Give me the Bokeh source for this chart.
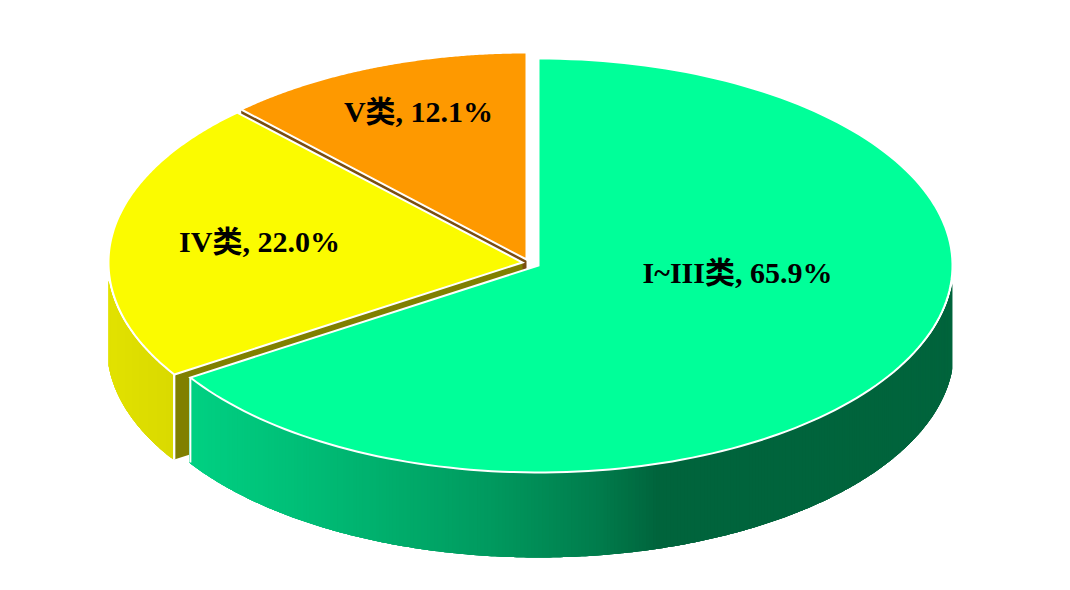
import numpy as np
from bokeh.plotting import figure
from bokeh.models import Range1d, ColumnDataSource
from bokeh.core.properties import value
from bokeh.embed import file_html
from bokeh.resources import INLINE

# ---- data
categories = ["I~III类", "IV类", "V类"]
shares = [65.9, 22.0, 12.1]

# ---- style / layout (window pixels)
apex_x = [538, 522, 526]
apex_y = [265, 262, 259]
RX, RY, DEPTH = 414, 207, 85
top_colors = ["#00ff99", "#fbfb00", "#fe9900"]
cut_colors = ["#006038", "#808000", "#7a4e10"]
label_dx = [199, -263, -108]
label_dy = [7, -21, -148]
green_stops = [(189, (0, 210, 131)), (300, (0, 192, 120)), (400, (0, 174, 108)),
               (500, (0, 154, 95)), (610, (0, 124, 76)), (670, (0, 100, 60)), (955, (0, 100, 60))]
yellow_stops = [(107, (226, 226, 0)), (175, (218, 218, 0))]

p = figure(width=1054, height=574, output_backend="svg", toolbar_location=None,
           x_range=Range1d(0, 1054), y_range=Range1d(574, 0), min_border=0)
p.axis.visible = False
p.grid.visible = False
p.outline_line_color = None


def ramp(stops, x):
    xs = [s[0] for s in stops]
    rgb = [np.interp(x, xs, [s[1][i] for s in stops]) for i in range(3)]
    return "#%02x%02x%02x" % tuple(int(round(c)) for c in rgb)


def rim(cx, cy, a, rx=RX, ry=RY):
    t = np.radians(a)
    return cx + rx * np.sin(t), cy - ry * np.cos(t)


def wall(cx, cy, a0, a1, stops, step=0.5):
    """Outer wall of a slice drawn as thin overlapping strips carrying a gradient."""
    edges = np.arange(a0, a1, step).tolist() + [a1]
    pairs = list(zip(edges[:-1], edges[1:]))
    xs, ys, cols = [], [], []
    for u, v in pairs:
        end = min(v + 3 * step, a1)
        a = np.linspace(u, end, 5)
        x, y = rim(cx, cy, a, RX + 1.5)
        xs.append(np.r_[x, x[::-1]].tolist())
        ys.append(np.r_[y, y[::-1] + DEPTH].tolist())
        cols.append(ramp(stops, float(x[0])))
    # last strips paint first so that each strip's start edge stays crisp
    p.patches(xs[::-1], ys[::-1], fill_color=cols[::-1], line_color=None)


def top(i, a0, a1):
    a = np.linspace(a0, a1, 160)
    x, y = rim(apex_x[i], apex_y[i], a)
    p.patch(np.r_[apex_x[i], x], np.r_[apex_y[i], y], fill_color=top_colors[i],
            line_color="#ffffff", line_width=2, line_join="miter")


def cut(i, a):
    tx, ty = rim(apex_x[i], apex_y[i], a)
    p.patch([apex_x[i], tx, tx, apex_x[i]],
            [apex_y[i], ty, ty + DEPTH, apex_y[i] + DEPTH],
            fill_color=cut_colors[i], line_color=None)


bounds = np.r_[0, np.cumsum(shares)] * 3.6
green_a0, green_a1 = bounds[0], bounds[1]
yellow_a0, yellow_a1 = bounds[1], bounds[2]
orange_a0, orange_a1 = bounds[2], bounds[3]

# back to front
cut(2, orange_a0)
top(2, orange_a0, orange_a1)

cut(1, yellow_a0)
wall(apex_x[1], apex_y[1], yellow_a0, 265, yellow_stops)
tx, ty = rim(apex_x[1], apex_y[1], yellow_a0)
p.line([tx, tx], [ty, ty + DEPTH], line_color="#ffffff", line_width=2)
top(1, yellow_a0, yellow_a1)

wall(apex_x[0], apex_y[0], 95, green_a1, green_stops)
tx, ty = rim(apex_x[0], apex_y[0], green_a1)
p.line([tx, tx], [ty, ty + DEPTH], line_color="#ffffff", line_width=2)
top(0, green_a0, green_a1)

labels = ["%s, %.1f%%" % (c, s) for c, s in zip(categories, shares)]
src = ColumnDataSource(dict(x=apex_x, y=apex_y, t=labels, dx=label_dx, dy=label_dy))
p.text("x", "y", text="t", source=src, x_offset="dx", y_offset="dy",
       text_align="center", text_baseline="middle", text_color="#000000",
       text_font=value("Liberation Serif, Noto Sans CJK SC"),
       text_font_size="30px", text_font_style="bold")

open("out.html", "w").write(file_html(p, INLINE))
